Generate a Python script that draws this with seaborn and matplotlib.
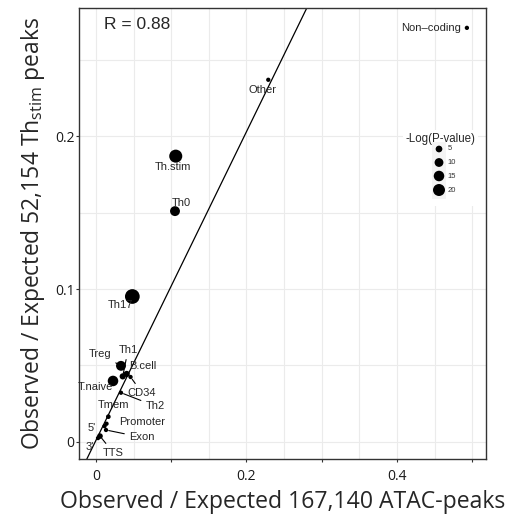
import numpy as np
import pandas as pd
import matplotlib
matplotlib.use("Agg")
import matplotlib.pyplot as plt
from matplotlib.patches import Rectangle
import seaborn as sns

# ---------------- data ----------------
labels = ["Non\u2013coding", "Other", "Th.stim", "Th0", "Th17", "Treg", "Th1", "B.cell",
          "CD34", "T.naive", "Th2", "Tmem", "Promoter", "5'", "Exon", "3'", "TTS"]
obs_atac = [0.493, 0.229, 0.106, 0.105, 0.0483, 0.0332, 0.0355, 0.0408,
            0.0459, 0.0226, 0.0332, 0.0164, 0.0140, 0.0113, 0.0133, 0.0027, 0.0053]
obs_thstim = [0.271, 0.237, 0.187, 0.151, 0.0951, 0.0497, 0.0428, 0.0444,
              0.0424, 0.0398, 0.0321, 0.0164, 0.0118, 0.0102, 0.0077, 0.0024, 0.0037]
neg_log_p = [1, 1, 24, 13, 31, 13, 4, 4, 1, 15, 1, 1.5, 1, 1, 1, 1, 3]
legend_values = [5, 10, 15, 20]
fit_intercept = 0.001
fit_slope = 1.01
r_value = 0.88

df = pd.DataFrame({"label": labels, "x": obs_atac, "y": obs_thstim, "p": neg_log_p})

# label placement (text anchor positions) and whether a connecting segment is drawn
label_pos = {
    "Non\u2013coding": (0.485, 0.271, "right"),
    "Other": (0.221, 0.230, "center"),
    "Th.stim": (0.102, 0.180, "center"),
    "Th0": (0.114, 0.156, "center"),
    "Th17": (0.033, 0.0897, "center"),
    "Treg": (0.0053, 0.0575, "center"),
    "Th1": (0.0426, 0.0601, "center"),
    "B.cell": (0.0625, 0.0497, "center"),
    "CD34": (0.0612, 0.0320, "center"),
    "T.naive": (-0.0013, 0.0361, "center"),
    "Th2": (0.0785, 0.0234, "center"),
    "Tmem": (0.023, 0.0241, "center"),
    "Promoter": (0.0607, 0.0131, "center"),
    "5'": (-0.0057, 0.0088, "center"),
    "Exon": (0.0607, 0.0029, "center"),
    "3'": (-0.008, -0.0033, "center"),
    "TTS": (0.023, -0.0072, "center"),
}
with_segment = {"Treg", "Th1", "CD34", "Th2", "Exon", "TTS"}

# ---------------- style ----------------
sns.set_theme(style="white")
plt.rcParams["font.family"] = ["Liberation Sans", "DejaVu Sans"]
plt.rcParams["mathtext.default"] = "regular"

W, H = 511, 517
fig = plt.figure(figsize=(W / 100, H / 100), dpi=100)
L, R, T, B = 79, 485.7, 8, 459
ax = fig.add_axes([L / W, 1 - B / H, (R - L) / W, (B - T) / H])

def axfrac(px, py):
    return ((px - L) / (R - L), (B - py) / (B - T))

s_min, s_max = 6.2, 125.9
size_norm = (0, 35)
sns.scatterplot(data=df, x="x", y="y", size="p", sizes=(s_min, s_max), size_norm=size_norm,
                color="black", edgecolor="none", linewidth=0, legend=False, ax=ax, zorder=3)

ax.axline((0, fit_intercept), slope=fit_slope, color="black", lw=0.9, zorder=2)

ax.set_xlim(-0.0226, 0.518)
ax.set_ylim(-0.0113, 0.284)

ax.set_xticks([0, 0.1, 0.2, 0.3, 0.4, 0.5])
ax.set_xticklabels(["0", "", "0.2", "", "0.4", ""])
ax.set_yticks([0, 0.1, 0.2])
ax.set_yticklabels(["0", "0.1", "0.2"])
ax.set_xticks(np.arange(-0.0, 0.52, 0.05), minor=True)
ax.set_yticks(np.arange(0.0, 0.29, 0.05), minor=True)
ax.grid(True, which="both", color="#ebebeb", lw=0.8, zorder=0)
ax.set_axisbelow(True)
ax.tick_params(axis="both", which="major", length=2.4, width=0.8, color="#333333",
               direction="out", labelsize=10, bottom=True, left=True,
               labelcolor="#1a1a1a")
ax.tick_params(axis="x", which="major", pad=5)
ax.tick_params(axis="y", which="major", pad=0.8)
ax.tick_params(axis="both", which="minor", length=0)
for lab in ax.get_xticklabels() + ax.get_yticklabels():
    lab.set_family(["Open Sans", "DejaVu Sans"])
for sp in ax.spines.values():
    sp.set_color("#333333")
    sp.set_linewidth(1.0)
    sp.set_visible(True)

ax.set_xlabel("Observed / Expected 167,140 ATAC-peaks", fontsize=16.6,
              family=["Open Sans", "DejaVu Sans"], labelpad=4)
ax.set_ylabel("Observed / Expected 52,154 Th$_{stim}$ peaks", fontsize=16.5,
              family=["Open Sans", "DejaVu Sans"], labelpad=6)

# point labels
for lab, x, y in zip(labels, obs_atac, obs_thstim):
    tx, ty, ha = label_pos[lab]
    if lab in with_segment:
        ax.annotate(lab, xy=(x, y), xytext=(tx, ty), fontsize=8, ha=ha, va="center",
                    arrowprops=dict(arrowstyle="-", color="black", lw=0.8,
                                    shrinkA=1, shrinkB=2), zorder=4)
    else:
        ax.text(tx, ty, lab, fontsize=8, ha=ha, va="center", zorder=4)

ax.text(0.0106, 0.273, f"R = {r_value}", fontsize=12.5, ha="left", va="center")

# size legend (inside the panel)
def size_of(v):
    return s_min + (v - size_norm[0]) / (size_norm[1] - size_norm[0]) * (s_max - s_min)

x0, y0 = axfrac(403, 206)
x1, y1 = axfrac(478, 130)
ax.add_patch(Rectangle((x0, y0), x1 - x0, y1 - y0, transform=ax.transAxes,
                       facecolor="white", edgecolor="none", zorder=1))
kx0, ky0 = axfrac(432, 199)
kx1, ky1 = axfrac(446, 142)
ax.add_patch(Rectangle((kx0, ky0), kx1 - kx0, ky1 - ky0, transform=ax.transAxes,
                       facecolor="#f4f4f4", edgecolor="none", zorder=1.5))
tx, ty = axfrac(440, 139)
ax.text(tx, ty, "-Log(P-value)", transform=ax.transAxes, fontsize=8.3,
        ha="center", va="center", zorder=5)
key_y = [149, 162.5, 176, 190]
for v, py in zip(legend_values, key_y):
    cx, cy = axfrac(439, py)
    ax.scatter([cx], [cy], s=size_of(v), color="black", edgecolor="none",
               transform=ax.transAxes, zorder=5, clip_on=False)
    lx, ly = axfrac(447.5, py)
    ax.text(lx, ly, str(v), transform=ax.transAxes, fontsize=5.5, color="#333333",
            ha="left", va="center", zorder=5)

fig.savefig("out.png", dpi=100)
